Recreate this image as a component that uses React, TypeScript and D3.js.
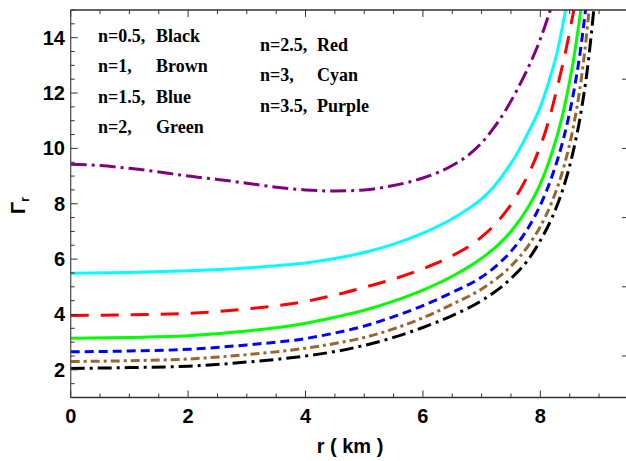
import React from "react";
import * as d3 from "d3";

const xTickLabels = [0, 2, 4, 6, 8];
const yTickLabels = [2, 4, 6, 8, 10, 12, 14];

const rBlack = [0, 1, 2, 3, 4, 4.5, 5, 5.5, 6, 6.5, 7, 7.5, 7.8, 8.0, 8.2, 8.4, 8.55, 8.7, 8.8, 8.91];
const gBlack = [2.05, 2.08, 2.13, 2.28, 2.5, 2.66, 2.88, 3.17, 3.53, 3.96, 4.5, 5.3, 6.0, 6.67, 7.5, 8.63, 9.8, 11.4, 12.84, 15];

const rBrown = [0, 1, 2, 3, 4, 4.5, 5, 5.5, 6, 6.5, 7, 7.5, 7.8, 8.0, 8.2, 8.4, 8.55, 8.7, 8.78, 8.83];
const gBrown = [2.3, 2.33, 2.39, 2.55, 2.78, 2.95, 3.17, 3.48, 3.88, 4.37, 4.92, 5.75, 6.5, 7.18, 8.08, 9.33, 10.65, 12.55, 13.95, 15];

const rBlue = [0, 1, 2, 3, 4, 4.5, 5, 5.5, 6, 6.5, 7, 7.3, 7.5, 7.8, 8.0, 8.2, 8.4, 8.55, 8.67, 8.77];
const gBlue = [2.65, 2.68, 2.74, 2.9, 3.13, 3.33, 3.58, 3.92, 4.32, 4.8, 5.35, 5.85, 6.28, 7.15, 7.95, 9.0, 10.4, 11.83, 13.35, 15];

const rGreen = [0, 1, 2, 3, 4, 4.5, 5, 5.5, 6, 6.5, 7, 7.3, 7.5, 7.8, 8.0, 8.2, 8.4, 8.55, 8.69];
const gGreen = [3.14, 3.17, 3.23, 3.4, 3.68, 3.9, 4.15, 4.48, 4.88, 5.38, 6.03, 6.55, 7.0, 7.9, 8.72, 9.85, 11.4, 13.0, 15];

const rRed = [0, 1, 2, 3, 4, 4.5, 5, 5.5, 6, 6.5, 7, 7.3, 7.6, 7.9, 8.1, 8.3, 8.45, 8.57];
const gRed = [3.96, 3.99, 4.04, 4.2, 4.47, 4.7, 4.98, 5.28, 5.65, 6.12, 6.8, 7.42, 8.3, 9.55, 10.7, 12.3, 13.7, 15];

const rCyan = [0, 1, 2, 3, 3.5, 4, 4.5, 5, 5.5, 6, 6.5, 6.8, 7.0, 7.2, 7.4, 7.6, 7.8, 8.0, 8.15, 8.3, 8.43];
const gCyan = [5.49, 5.52, 5.58, 5.68, 5.76, 5.86, 6.02, 6.24, 6.54, 6.94, 7.46, 7.86, 8.18, 8.6, 9.15, 9.8, 10.6, 11.5, 12.45, 13.6, 15];

const rPurple = [0, 0.5, 1, 1.5, 2, 2.5, 3, 3.5, 4, 4.5, 5, 5.5, 6, 6.5, 6.8, 7.0, 7.2, 7.4, 7.6, 7.8, 8.0, 8.17];
const gPurple = [9.43, 9.38, 9.28, 9.15, 9.0, 8.88, 8.74, 8.6, 8.5, 8.46, 8.5, 8.66, 8.93, 9.38, 9.8, 10.2, 10.72, 11.35, 12.1, 12.95, 13.95, 15];

const legendLeft = [
  ["n=0.5,", "Black"],
  ["n=1,", "Brown"],
  ["n=1.5,", "Blue"],
  ["n=2,", "Green"],
];
const legendRight = [
  ["n=2.5,", "Red"],
  ["n=3,", "Cyan"],
  ["n=3.5,", "Purple"],
];

const series = [
  { r: rBlack, g: gBlack, color: "#000000", dash: "14,5,3,5" },
  { r: rBrown, g: gBrown, color: "#996633", dash: "9,4,3,4" },
  { r: rBlue, g: gBlue, color: "#0000ff", dash: "9,5" },
  { r: rGreen, g: gGreen, color: "#00ff00", dash: "" },
  { r: rRed, g: gRed, color: "#ff0000", dash: "18,12" },
  { r: rCyan, g: gCyan, color: "#00ffff", dash: "" },
  { r: rPurple, g: gPurple, color: "#800080", dash: "16,5,3,5" },
];

export default function App() {
  const W = 626;
  const H = 461;
  const left = 70.7;
  const right = 628.4;
  const top = 10;
  const bottom = 397.5;
  const x = d3.scaleLinear().domain([0, 9.5]).range([left, right]);
  const y = d3.scaleLinear().domain([1, 15]).range([bottom, top]);

  const line = d3
    .line<[number, number]>()
    .x((d) => x(d[0]))
    .y((d) => y(d[1]))
    .curve(d3.curveMonotoneX);

  const xMinor = d3.range(0, 9.51, 0.5);
  const yMinor = d3.range(1, 15.01, 0.5);
  const yRight = d3.range(2.5, 15, 2.5);
  const frame = "#333";
  const tickFont = "'Liberation Sans', Arial, sans-serif";
  const serif = "'Liberation Serif', 'Times New Roman', serif";

  return (
    <div style={{ position: "absolute", left: 0, top: 0 }}>
      <svg width={W} height={H} style={{ display: "block", background: "#fff" }}>
        <defs>
          <clipPath id="plotclip">
            <rect x={left} y={top} width={right - left} height={bottom - top} />
          </clipPath>
        </defs>
        <rect x={0} y={0} width={W} height={H} fill="#fff" />

        <g clipPath="url(#plotclip)">
          {series.map((s, i) => (
            <path
              key={i}
              d={line(s.r.map((rv, j) => [rv, s.g[j]] as [number, number])) || ""}
              fill="none"
              stroke={s.color}
              strokeWidth={3}
              strokeDasharray={s.dash || undefined}
            />
          ))}
        </g>

        <line x1={left} x2={right} y1={top} y2={top} stroke={frame} strokeWidth={1.3} />
        <line x1={left} x2={right} y1={bottom} y2={bottom} stroke={frame} strokeWidth={1.5} />
        <line x1={left} x2={left} y1={top} y2={bottom} stroke="#555" strokeWidth={1.3} />

        {xMinor.map((v, i) => {
          const major = Math.abs(v / 2 - Math.round(v / 2)) < 1e-6;
          const len = major ? 7 : 4;
          return (
            <g key={"xt" + i}>
              <line x1={x(v)} x2={x(v)} y1={bottom} y2={bottom - len} stroke={frame} strokeWidth={1} />
              <line x1={x(v)} x2={x(v)} y1={top} y2={top + len} stroke={frame} strokeWidth={1} />
            </g>
          );
        })}
        {yMinor.map((v, i) => {
          const major = Math.abs(v / 2 - Math.round(v / 2)) < 1e-6;
          const len = major ? 7 : 4;
          return <line key={"yt" + i} x1={left} x2={left + len} y1={y(v)} y2={y(v)} stroke={frame} strokeWidth={1} />;
        })}
        {yRight.map((v, i) => (
          <line key={"yr" + i} x1={626} x2={622} y1={y(v)} y2={y(v)} stroke={frame} strokeWidth={1} />
        ))}

        {xTickLabels.map((v) => (
          <text key={"xl" + v} x={x(v)} y={423} textAnchor="middle" fontFamily={tickFont} fontWeight="bold" fontSize={20} fill="#000">
            {v}
          </text>
        ))}
        {yTickLabels.map((v) => (
          <text key={"yl" + v} x={65} y={y(v) + 7} textAnchor="end" fontFamily={tickFont} fontWeight="bold" fontSize={20} fill="#000">
            {v}
          </text>
        ))}

        <text x={350} y={453} textAnchor="middle" fontFamily={tickFont} fontWeight="bold" fontSize={20} fill="#000">
          r ( km )
        </text>
        <text transform="translate(25,214) rotate(-90)" textAnchor="start" fontFamily={tickFont} fontWeight="bold" fontSize={20} fill="#000">
          Γ
          <tspan fontSize={13} dy={4}>r</tspan>
        </text>

        {legendLeft.map((d, i) => (
          <g key={"ll" + i}>
            <text x={98} y={41.7 + i * 30.5} fontFamily={serif} fontWeight="bold" fontSize={18} fill="#000">
              {d[0]}
            </text>
            <text x={156} y={41.7 + i * 30.5} fontFamily={serif} fontWeight="bold" fontSize={18} fill="#000">
              {d[1]}
            </text>
          </g>
        ))}
        {legendRight.map((d, i) => (
          <g key={"lr" + i}>
            <text x={260} y={51 + i * 30.3} fontFamily={serif} fontWeight="bold" fontSize={18} fill="#000">
              {d[0]}
            </text>
            <text x={317} y={51 + i * 30.3} fontFamily={serif} fontWeight="bold" fontSize={18} fill="#000">
              {d[1]}
            </text>
          </g>
        ))}
      </svg>
    </div>
  );
}
